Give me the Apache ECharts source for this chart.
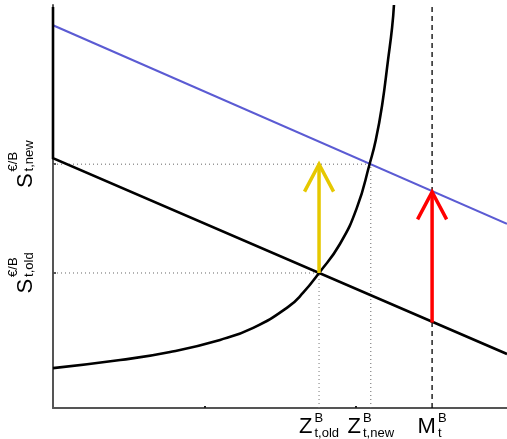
<!DOCTYPE html>
<html><head><meta charset="utf-8">
<script src="https://cdn.jsdelivr.net/npm/echarts@6/dist/echarts.min.js"></script>
<style>html,body{margin:0;padding:0;background:#fff}#c{width:507px;height:439px}</style>
</head><body><div id="c"></div>
<script>
// ---- data ----
const curveX = [0, 14.8, 25.8, 36.8, 44.1, 51.8, 55.1, 58.6, 63.2, 67.0, 69.8, 71.1, 72.5, 73.8, 74.7, 75.1];
const curveY = [9.9, 11.9, 13.9, 16.9, 19.9, 25.1, 28.6, 33.5, 40.7, 49.9, 60.8, 66.5, 75.2, 86.4, 94.5, 100];
const oldLineX = [0, 0, 100];
const oldLineY = [99.5, 62, 13.4];
const newLineX = [0, 100];
const newLineY = [95, 45.7];
const zValues = [58.6, 70.0];      // Z old, Z new
const sValues = [33.5, 60.5];      // S old, S new
const mValue = 83.5;
const redArrowY = [21.2, 53.6];
const xTickValues = [100 / 3, 200 / 3];
const xLabelMain = ['Z', 'Z', 'M'];
const xLabelSup = ['B', 'B', 'B'];
const xLabelSub = ['t,old', 't,new', 't'];
const yLabelMain = ['S', 'S'];
const yLabelSup = ['€/B', '€/B'];
const yLabelSub = ['t,old', 't,new'];

const zip = (xs, ys) => xs.map((x, i) => [x, ys[i]]);
const FONT = '"Liberation Sans", Arial, sans-serif';

function lineSeries(data, color, width, type, extra) {
  return Object.assign({
    type: 'line', data: data, showSymbol: false, symbol: 'none', clip: false,
    silent: true, animation: false,
    lineStyle: { color: color, width: width, type: type || 'solid', cap: 'butt', join: 'miter' }
  }, extra || {});
}
function arrow(x, y0, y1, color) {
  const dx = 3.2, dy = 6.8;
  return [
    lineSeries([[x, y0], [x, y1]], color, 3.5),
    lineSeries([[x - dx, y1 - dy], [x, y1], [x + dx, y1 - dy]], color, 3.5)
  ];
}

const series = [
  lineSeries([[0, sValues[1]], [zValues[1], sValues[1]]], '#666', 1, [1, 3]),
  lineSeries([[0, sValues[0]], [zValues[0], sValues[0]]], '#666', 1, [1, 3]),
  lineSeries([[zValues[0], 0], [zValues[0], sValues[0]]], '#777', 1, [1, 3]),
  lineSeries([[zValues[1], 0], [zValues[1], sValues[1]]], '#666', 1, [1, 3]),
  lineSeries([[mValue, 0], [mValue, 100]], '#000', 1.3, [5, 4]),
  lineSeries(zip(newLineX, newLineY), '#5b5bd3', 2.2),
  lineSeries(zip(oldLineX, oldLineY), '#000', 2.6),
  lineSeries(zip(curveX, curveY), '#000', 2.6, 'solid', { smooth: 0.5 }),
  ...arrow(zValues[0], sValues[0], sValues[1], '#e6c800'),
  ...arrow(mValue, redArrowY[0], redArrowY[1], '#ff0000')
];

const option = {
  animation: false,
  grid: { left: 53, right: 0, top: 5, bottom: 31 },
  xAxis: {
    type: 'value', min: 0, max: 100,
    axisLine: { show: true, onZero: false, lineStyle: { color: '#555', width: 2 } },
    axisTick: { show: true, inside: true, length: 2, customValues: xTickValues, lineStyle: { color: '#222', width: 2 } },
    axisLabel: { show: false }, splitLine: { show: false }
  },
  yAxis: {
    type: 'value', min: 0, max: 100, interval: 100,
    axisLine: { show: true, onZero: false, lineStyle: { color: '#555', width: 2 } },
    axisTick: { show: true, inside: true, length: 3, customValues: sValues, lineStyle: { color: '#222', width: 1.5 } },
    axisLabel: { show: false }, splitLine: { show: false }
  },
  series: series
};

const chart = echarts.init(document.getElementById('c'), null, { renderer: 'canvas' });
chart.setOption(option);

const ctx = document.createElement('canvas').getContext('2d');
function tw(t, fs) { ctx.font = fs + 'px ' + FONT; return ctx.measureText(t).width; }
function txt(t, x, y, fs) {
  return { type: 'text', x: x, y: y, silent: true,
    style: { text: t, font: fs + 'px ' + FONT, fill: '#000', align: 'left', verticalAlign: 'middle' } };
}

const graphics = [];
const xVals = [zValues[0], zValues[1], mValue];
xVals.forEach((v, i) => {
  const p = chart.convertToPixel({ gridIndex: 0 }, [v, 0]);
  const wm = tw(xLabelMain[i], 22);
  const ws = Math.max(tw(xLabelSup[i], 13), tw(xLabelSub[i], 13));
  const W = wm + 2 + ws, left = -W / 2;
  graphics.push({ type: 'group', x: p[0], y: p[1], children: [
    txt(xLabelMain[i], left, 18.5, 22),
    txt(xLabelSup[i], left + wm + 2, 10, 13),
    txt(xLabelSub[i], left + wm + 2, 25, 13)
  ] });
});
sValues.forEach((v, i) => {
  const p = chart.convertToPixel({ gridIndex: 0 }, [0, v]);
  const wm = tw(yLabelMain[i], 22);
  const ws = Math.max(tw(yLabelSup[i], 13), tw(yLabelSub[i], 13));
  const W = wm + 2 + ws, left = -W / 2;
  graphics.push({ type: 'group', x: p[0] - 27, y: p[1], rotation: Math.PI / 2, children: [
    txt(yLabelMain[i], left, 0, 22),
    txt(yLabelSup[i], left + wm + 2, -13, 13),
    txt(yLabelSub[i], left + wm + 2, 3, 13)
  ] });
});
chart.setOption({ graphic: graphics });
</script>
</body></html>
